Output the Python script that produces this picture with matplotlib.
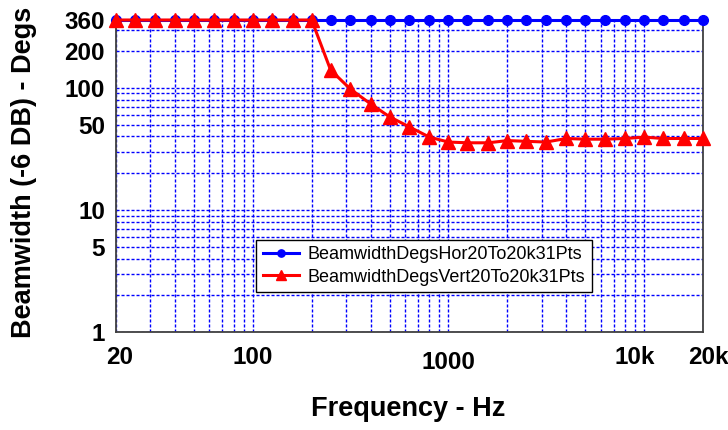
import matplotlib
matplotlib.use("Agg")
import matplotlib.pyplot as plt
from matplotlib.ticker import LogLocator, NullFormatter, FixedLocator, FixedFormatter
from matplotlib.transforms import ScaledTranslation

plt.rcParams['font.family'] = ['Liberation Sans', 'DejaVu Sans']

freqs = [20, 25, 31.5, 40, 50, 63, 80, 100, 125, 160, 200, 250, 315, 400, 500, 630,
         800, 1000, 1250, 1600, 2000, 2500, 3150, 4000, 5000, 6300, 8000, 10000,
         12500, 16000, 20000]
hor = [360] * 31
vert = [360, 360, 360, 360, 360, 360, 360, 360, 360, 360, 360, 140, 98, 74, 58, 48,
        39.5, 36, 35.5, 35.5, 37, 36.5, 36, 38.5, 38, 38, 38.5, 39.5, 38.5, 38.5, 38.5]

x_ticks = [20, 100, 1000, 10000, 20000]
x_tick_labels = ['20', '100', '1000', '10k', '20k']
y_ticks = [1, 5, 10, 50, 100, 200, 360]
y_tick_labels = ['1', '5', '10', '50', '100', '200', '360']

fig = plt.figure(figsize=(7.28, 4.3), dpi=100)
ax = fig.add_axes([116/728, 1 - 332/430, (703-116)/728, (332-20)/430])
ax.set_xscale('log')
ax.set_yscale('log')
ax.set_xlim(20, 20000)
ax.set_ylim(1, 360)

ax.xaxis.set_major_locator(FixedLocator(x_ticks))
ax.xaxis.set_major_formatter(FixedFormatter(x_tick_labels))
ax.xaxis.set_minor_locator(LogLocator(base=10, subs=range(2, 10), numticks=50))
ax.xaxis.set_minor_formatter(NullFormatter())
ax.yaxis.set_major_locator(FixedLocator(y_ticks))
ax.yaxis.set_major_formatter(FixedFormatter(y_tick_labels))
ax.yaxis.set_minor_locator(LogLocator(base=10, subs=range(2, 10), numticks=50))
ax.yaxis.set_minor_formatter(NullFormatter())

ax.grid(which='both', color='#0000ff', linestyle=(0, (2.2, 1.4)), linewidth=1.0)
ax.set_axisbelow(True)

ax.tick_params(which='both', length=0)
ax.tick_params(axis='x', pad=10, labelsize=17.5)
ax.tick_params(axis='y', pad=8, labelsize=17.5)
for lbl in ax.get_xticklabels() + ax.get_yticklabels():
    lbl.set_fontweight('bold')

for sp in ax.spines.values():
    sp.set_color('#404040')
    sp.set_linewidth(1.3)

ax.plot(freqs, hor, color='#0000ff', lw=2.2, marker='o', ms=7, mec='#0000ff',
        mfc='#0000ff', clip_on=False, zorder=5, label='BeamwidthDegsHor20To20k31Pts')
ax.plot(freqs, vert, color='#ff0000', lw=2.2, marker='^', ms=9.5, mec='#ff0000',
        mfc='#ff0000', clip_on=False, zorder=6, label='BeamwidthDegsVert20To20k31Pts')

leg = ax.legend(loc='center', bbox_to_anchor=(0.5247, 0.2115), fontsize=13,
                frameon=True, fancybox=False, shadow=False, framealpha=1,
                edgecolor='black', borderpad=0.35, labelspacing=0.3,
                handlelength=2.0, handletextpad=0.5, markerscale=0.75)
leg.get_frame().set_linewidth(1.0)
leg.set_zorder(10)

# small per-label offsets (pixels) to mimic reference placement
offsets = {'20': (4, 0), '1000': (0, -5), '10k': (-9, 0), '20k': (5, 0)}
for lbl in ax.get_xticklabels():
    t = lbl.get_text()
    if t in offsets:
        dx, dy = offsets[t]
        lbl.set_transform(lbl.get_transform() + ScaledTranslation(dx/100, dy/100, fig.dpi_scale_trans))

fig.text(408/728, 1 - 409/430, 'Frequency - Hz', ha='center', va='center',
         fontsize=19.5, fontweight='bold')
fig.text(24/728, 1 - 172/430, 'Beamwidth (-6 DB) - Degs', ha='center', va='center',
         rotation=90, fontsize=19.5, fontweight='bold')

fig.savefig('out.png', dpi=100)
